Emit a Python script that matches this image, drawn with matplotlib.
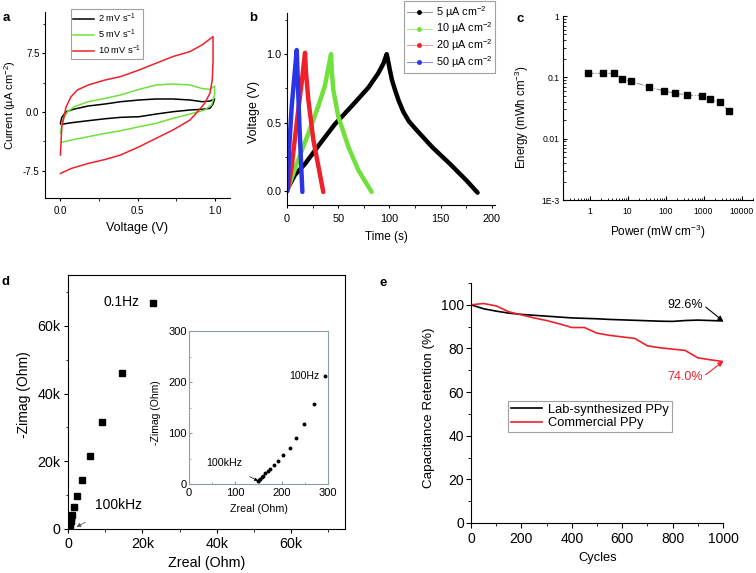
import matplotlib
matplotlib.use('Agg')
import matplotlib.pyplot as plt
from matplotlib.lines import Line2D
from matplotlib.ticker import MultipleLocator, FixedLocator, FixedFormatter, LogLocator, NullFormatter

plt.rcParams['font.family'] = ['Liberation Sans', 'DejaVu Sans']
plt.rcParams['mathtext.fontset'] = 'custom'
plt.rcParams['mathtext.rm'] = 'Liberation Sans'
plt.rcParams['mathtext.it'] = 'Liberation Sans:italic'
plt.rcParams['mathtext.default'] = 'regular'
plt.rcParams['axes.unicode_minus'] = False
plt.rcParams['axes.linewidth'] = 0.8
plt.rcParams['xtick.major.width'] = 0.8
plt.rcParams['ytick.major.width'] = 0.8
plt.rcParams['xtick.minor.width'] = 0.6
plt.rcParams['ytick.minor.width'] = 0.6

# ---- a: CV curves (voltage V, current uA cm-2) ----
cv2_v = [0, 0.009, 0.037, 0.09, 0.18, 0.29, 0.39, 0.51, 0.62, 0.73, 0.84, 0.92, 0.97, 1.0,
         0.99, 0.97, 0.92, 0.84, 0.73, 0.62, 0.51, 0.39, 0.29, 0.18, 0.07, 0.005]
cv2_i = [-1.45, -0.68, 0.04, 0.38, 0.77, 1.03, 1.32, 1.54, 1.67, 1.67, 1.54, 1.32, 1.41, 1.67,
         1.03, 0.47, 0.35, 0.26, 0.04, -0.26, -0.6, -0.68, -0.86, -1.11, -1.37, -1.58]
cv5_v = [0, 0.015, 0.047, 0.09, 0.18, 0.29, 0.39, 0.51, 0.62, 0.73, 0.84, 0.92, 0.97, 1.0,
         1.0, 0.98, 0.935, 0.84, 0.73, 0.62, 0.51, 0.39, 0.29, 0.18, 0.07, 0.005]
cv5_i = [-2.7, -1.03, 0.04, 0.68, 1.32, 1.75, 2.18, 2.9, 3.46, 3.59, 3.46, 3.0, 2.9, 3.33,
         2.18, 0.9, 0.26, -0.26, -0.81, -1.45, -1.88, -2.4, -2.73, -3.16, -3.59, -3.89]
cv10_v = [0, 0.009, 0.037, 0.069, 0.11, 0.18, 0.29, 0.39, 0.51, 0.62, 0.73, 0.84, 0.92, 0.99,
          0.99, 0.985, 0.97, 0.935, 0.89, 0.84, 0.73, 0.62, 0.51, 0.39, 0.29, 0.18, 0.07, 0.0]
cv10_i = [-5.5, -1.9, 0.68, 1.96, 2.82, 3.46, 4.1, 4.53, 5.38, 6.24, 7.1, 7.73, 8.6, 9.65,
          6.5, 4.1, 2.4, 1.1, 0.04, -1.03, -2.3, -3.37, -4.45, -5.5, -6.07, -6.58, -7.22, -7.86]

# ---- b: charge/discharge (time s, voltage V) ----
t5 = [0, 1.3, 7.8, 17.6, 30.5, 46.8, 63, 79.3, 89, 94, 97.3, 98.2, 99.2, 100.5, 102.5, 105.4, 109, 113.5,
      119, 126, 142, 159, 175, 186]
u5 = [0, 0.03, 0.12, 0.2, 0.33, 0.49, 0.62, 0.755, 0.86, 0.93, 1.0, 0.97, 0.93, 0.88, 0.81, 0.74, 0.66,
      0.58, 0.51, 0.45, 0.32, 0.2, 0.08, -0.01]
t10 = [0, 1.3, 11, 20.8, 30.5, 37, 43, 43.6, 45.2, 50, 59.8, 69.6, 82.6]
u10 = [0, 0.03, 0.23, 0.42, 0.62, 0.77, 1.0, 0.89, 0.74, 0.546, 0.326, 0.154, -0.005]
t20 = [0, 1.3, 4.6, 9.5, 14.3, 17.6, 18.5, 20.8, 25.7, 35.4]
u20 = [0, 0.03, 0.18, 0.5, 0.79, 1.01, 0.87, 0.67, 0.375, -0.005]
t50 = [0, 0.7, 2, 4.6, 9.5, 10.4, 12, 15]
u50 = [0, 0.02, 0.3, 0.62, 1.03, 0.84, 0.5, -0.005]

# ---- c: Ragone ----
power = [0.89, 2.2, 4.3, 7.1, 12, 37, 89, 178, 375, 890, 1520, 2690, 4700]
energy = [0.116, 0.116, 0.116, 0.094, 0.086, 0.070, 0.060, 0.055, 0.0515, 0.050, 0.0437, 0.039, 0.028]

# ---- d: Nyquist ----
zreal = [22800, 14500, 9200, 5800, 3800, 2400, 1650, 1100, 900, 750, 600, 450, 300, 200, 150]
zimag = [66600, 46000, 31600, 21500, 14500, 9800, 6450, 4100, 3300, 2500, 1800, 1100, 500, 150, 10]
zreal_in = [149, 151, 154, 157, 160, 165, 170, 175, 183, 193, 203, 217, 231, 248, 270, 293]
zimag_in = [6.5, 8, 10, 13, 16, 21, 26, 30, 37, 45, 56, 71, 90, 117, 156, 211]

# ---- e: cycling ----
cycles = [0, 50, 100, 150, 200, 250, 300, 350, 400, 450, 500, 550, 600, 650, 700, 750, 800, 850, 900, 950, 1000]
lab_ppy = [100, 98.2, 97.1, 96.2, 95.6, 95.2, 94.8, 94.4, 94.0, 93.8, 93.6, 93.3, 93.1, 92.9, 92.7, 92.5, 92.4, 92.8, 93.0, 92.8, 92.6]
com_ppy = [100, 100.6, 99.5, 96.8, 95.4, 94.0, 92.8, 91.3, 89.6, 89.6, 87.0, 86.0, 85.3, 84.6, 81.2, 80.3, 79.7, 79.1, 75.7, 74.8, 74.0]

RED = '#f0202a'
GREEN = '#70e03a'
BLUE = '#2a35e6'

W, H = 756, 573
def box(l, t, r, b):
    return [l / W, 1 - b / H, (r - l) / W, (b - t) / H]

fig = plt.figure(figsize=(W / 100, H / 100), dpi=100)

def open_axes(ax):
    ax.spines['top'].set_visible(False)
    ax.spines['right'].set_visible(False)

def put_labels(ax, xc, yc):
    # label centres given in picture pixels
    inv = ax.transAxes.inverted()
    ax.xaxis.set_label_coords(*inv.transform((xc[0], H - xc[1])))
    ax.xaxis.label.set_va('center')
    ax.yaxis.set_label_coords(*inv.transform((yc[0], H - yc[1])))
    ax.yaxis.label.set(va='center', ha='center', rotation_mode='default')

# panel a
ax = fig.add_axes(box(45, 12, 230, 198))
open_axes(ax)
ax.plot(cv2_v, cv2_i, color='black', lw=1.1, label='2 mV s$^{-1}$')
ax.plot(cv5_v, cv5_i, color=GREEN, lw=1.1, label='5 mV s$^{-1}$')
ax.plot(cv10_v, cv10_i, color=RED, lw=1.1, label='10 mV s$^{-1}$')
ax.set_xlim(-0.1, 1.1)
ax.set_ylim(-11, 12.8)
ax.set_xticks([0, 0.5, 1.0], ['0.0', '0.5', '1.0'])
ax.set_yticks([-7.5, 0, 7.5], ['-7.5', '0.0', '7.5'])
ax.xaxis.set_minor_locator(MultipleLocator(0.25))
ax.yaxis.set_minor_locator(MultipleLocator(3.75))
ax.tick_params(labelsize=7, length=2.5)
ax.tick_params(axis='y', pad=1.5)
ax.tick_params(axis='x', pad=3)
ax.tick_params(which='minor', length=1.8)
ax.set_xlabel('Voltage (V)', fontsize=9)
ax.set_ylabel('Current (µA cm$^{-2}$)', fontsize=8)
put_labels(ax, (137, 228), (10, 105))
leg = ax.legend(loc='upper left', bbox_to_anchor=(71 / W, 1 - 9 / H), bbox_transform=fig.transFigure,
                fontsize=6.7, frameon=True, fancybox=False, edgecolor='#888888', borderaxespad=0,
                handlelength=2.2, labelspacing=0.3, borderpad=0.25, handletextpad=0.4)
leg.get_frame().set_linewidth(0.8)
fig.text(6 / W, 1 - 18 / H, 'a', fontsize=9.5, fontweight='bold', va='center', ha='center')

# panel b
ax = fig.add_axes(box(287, 13, 495, 205))
open_axes(ax)
ax.plot(t5, u5, color='black', lw=3.2, solid_capstyle='round', solid_joinstyle='round')
ax.plot(t10, u10, color=GREEN, lw=3.2, solid_capstyle='round', solid_joinstyle='round')
ax.plot(t20, u20, color=RED, lw=3.2, solid_capstyle='round', solid_joinstyle='round')
ax.plot(t50, u50, color=BLUE, lw=3.2, solid_capstyle='round', solid_joinstyle='round')
ax.set_xlim(0, 203)
ax.set_ylim(-0.1, 1.3)
ax.set_xticks([0, 50, 100, 150, 200])
ax.set_yticks([0, 0.5, 1.0], ['0.0', '0.5', '1.0'])
ax.xaxis.set_minor_locator(MultipleLocator(25))
ax.yaxis.set_minor_locator(MultipleLocator(0.25))
ax.tick_params(labelsize=7.8, length=2.5)
ax.tick_params(axis='y', pad=1.5)
ax.tick_params(axis='x', pad=4)
ax.tick_params(which='minor', length=1.8)
ax.set_xlabel('Time (s)', fontsize=8.5)
ax.set_ylabel('Voltage (V)', fontsize=9)
put_labels(ax, (386, 237), (254, 112))
handles = [Line2D([], [], color=lc, lw=0.8, marker='o', ms=2.5, mfc=c, mec=c)
           for c, lc in [('black', '#999999'), (GREEN, '#a8ee88'), (RED, '#f5a0a0'), (BLUE, '#8a90ee')]]
labels = ['5 µA cm$^{-2}$', '10 µA cm$^{-2}$', '20 µA cm$^{-2}$', '50 µA cm$^{-2}$']
leg = ax.legend(handles, labels, loc='upper left', bbox_to_anchor=(404 / W, 1 - 1 / H),
                bbox_transform=fig.transFigure, fontsize=7.8, frameon=True, fancybox=False,
                edgecolor='#888888', borderaxespad=0, handlelength=2.3, labelspacing=0.1,
                borderpad=0.25, handletextpad=0.4)
leg.get_frame().set_linewidth(0.8)
fig.text(253 / W, 1 - 18 / H, 'b', fontsize=9.5, fontweight='bold', va='center', ha='center')

# panel c
ax = fig.add_axes(box(563, 16, 753, 200))
open_axes(ax)
ax.plot(power, energy, color='#888888', lw=0.7, ls='-.', marker='s', ms=4, mfc='black', mec='black')
ax.set_xscale('log')
ax.set_yscale('log')
ax.set_xlim(0.2, 20000)
ax.set_ylim(1e-3, 1)
ax.xaxis.set_major_locator(FixedLocator([1, 10, 100, 1000, 10000]))
ax.xaxis.set_major_formatter(FixedFormatter(['1', '10', '100', '1000', '10000']))
ax.yaxis.set_major_locator(FixedLocator([1e-3, 1e-2, 1e-1, 1]))
ax.yaxis.set_major_formatter(FixedFormatter(['1E-3', '0.01', '0.1', '1']))
ax.xaxis.set_minor_locator(LogLocator(base=10, subs=range(2, 10), numticks=20))
ax.yaxis.set_minor_locator(LogLocator(base=10, subs=range(2, 10), numticks=20))
ax.xaxis.set_minor_formatter(NullFormatter())
ax.yaxis.set_minor_formatter(NullFormatter())
ax.tick_params(which='both', direction='in', labelsize=6.2)
ax.tick_params(length=3)
ax.tick_params(axis='y', pad=2.5)
ax.tick_params(axis='x', pad=5)
ax.tick_params(which='minor', length=1.8)
ax.set_xlabel('Power (mW cm$^{-3}$)', fontsize=8.5)
ax.set_ylabel('Energy (mWh cm$^{-3}$)', fontsize=8.3)
put_labels(ax, (658, 232), (522, 117))
fig.text(520 / W, 1 - 19 / H, 'c', fontsize=9.5, fontweight='bold', va='center', ha='center')

# panel d
ax = fig.add_axes(box(68, 275, 345, 529))
ax.plot(zreal, zimag, ls='none', marker='s', ms=4, color='black')
ax.set_xlim(0, 74500)
ax.set_ylim(0, 75000)
ax.set_xticks([0, 20000, 40000, 60000], ['0', '20k', '40k', '60k'])
ax.set_yticks([0, 20000, 40000, 60000], ['0', '20k', '40k', '60k'])
ax.xaxis.set_minor_locator(MultipleLocator(10000))
ax.yaxis.set_minor_locator(MultipleLocator(10000))
ax.tick_params(labelsize=10.3, length=3)
ax.tick_params(axis='y', pad=2.5)
ax.tick_params(axis='x', pad=3)
ax.tick_params(which='minor', length=1.8)
ax.set_xlabel('Zreal (Ohm)', fontsize=10.3)
ax.set_ylabel('-Zimag (Ohm)', fontsize=10)
put_labels(ax, (207, 563), (24, 395))
ax.text(14300, 67000, '0.1Hz', fontsize=10, ha='center', va='center')
ax.annotate('100kHz', xy=(2300, 600), xytext=(13500, 7200), fontsize=10, ha='center', va='center',
            arrowprops=dict(arrowstyle='-|>', color='#555555', lw=0.6, mutation_scale=6,
                            shrinkA=12, shrinkB=0))
fig.text(6 / W, 1 - 282 / H, 'd', fontsize=9.5, fontweight='bold', va='center', ha='center')

# inset
ai = fig.add_axes(box(189, 331, 328, 484))
ai.plot(zreal_in, zimag_in, ls='none', marker='o', ms=1.8, color='black')
ai.set_xlim(0, 300)
ai.set_ylim(0, 300)
ai.set_xticks([0, 100, 200, 300])
ai.set_yticks([0, 100, 200, 300])
ai.xaxis.set_minor_locator(MultipleLocator(50))
ai.yaxis.set_minor_locator(MultipleLocator(50))
for s in ai.spines.values():
    s.set_color('#8e9ea6')
ai.tick_params(which='both', direction='in', colors='#8e9ea6', labelcolor='black', labelsize=8, length=2)
ai.tick_params(which='minor', length=1.2)
ai.tick_params(axis='y', pad=1.5)
ai.tick_params(axis='x', pad=3)
ai.set_xlabel('Zreal (Ohm)', fontsize=7.7)
ai.set_ylabel('-Zimag (Ohm)', fontsize=7.5)
put_labels(ai, (259, 509), (156, 413))
ai.text(282, 211, '100Hz', fontsize=7.6, ha='right', va='center')
ai.annotate('100kHz', xy=(149, 6), xytext=(75, 41), fontsize=7.7, ha='center', va='center',
            arrowprops=dict(arrowstyle='-|>', color='black', lw=0.5, mutation_scale=5,
                            shrinkA=9, shrinkB=0))

# panel e
ax = fig.add_axes(box(471, 283, 723, 523))
open_axes(ax)
ax.plot(cycles, lab_ppy, color='black', lw=1.2, label='Lab-synthesized PPy')
ax.plot(cycles, com_ppy, color=RED, lw=1.2, label='Commercial PPy')
ax.set_xlim(0, 1000)
ax.set_ylim(0, 110)
ax.set_xticks(range(0, 1001, 200))
ax.set_yticks(range(0, 101, 20))
ax.xaxis.set_minor_locator(MultipleLocator(100))
ax.yaxis.set_minor_locator(MultipleLocator(10))
ax.tick_params(labelsize=10, length=3.5)
ax.tick_params(axis='y', pad=1.5)
ax.tick_params(axis='x', pad=3)
ax.tick_params(which='minor', length=2)
ax.set_xlabel('Cycles', fontsize=9.3)
ax.set_ylabel('Capacitance Retention (%)', fontsize=9.6)
put_labels(ax, (598, 558), (429, 408))
ax.annotate('92.6%', xy=(1000, 92.6), xytext=(850, 100), fontsize=9, ha='center', va='center',
            arrowprops=dict(arrowstyle='-|>', color='black', lw=0.8, mutation_scale=7,
                            shrinkA=0, shrinkB=0, relpos=(1, 0.5)))
ax.annotate('74.0%', xy=(1000, 74.0), xytext=(850, 67), fontsize=9, ha='center', va='center',
            color=RED, arrowprops=dict(arrowstyle='-|>', color=RED, lw=0.8, mutation_scale=7,
                                       shrinkA=0, shrinkB=0, relpos=(1, 0.5)))
leg = ax.legend(loc='upper left', bbox_to_anchor=(508 / W, 1 - 401 / H), bbox_transform=fig.transFigure,
                fontsize=9.3, frameon=True, fancybox=False, edgecolor='#888888', borderaxespad=0,
                handlelength=2.4, labelspacing=0.12, borderpad=0.2, handletextpad=0.5)
leg.get_frame().set_linewidth(0.8)
fig.text(383 / W, 1 - 283 / H, 'e', fontsize=9.5, fontweight='bold', va='center', ha='center')

fig.savefig('out.png', dpi=100, facecolor='white')
